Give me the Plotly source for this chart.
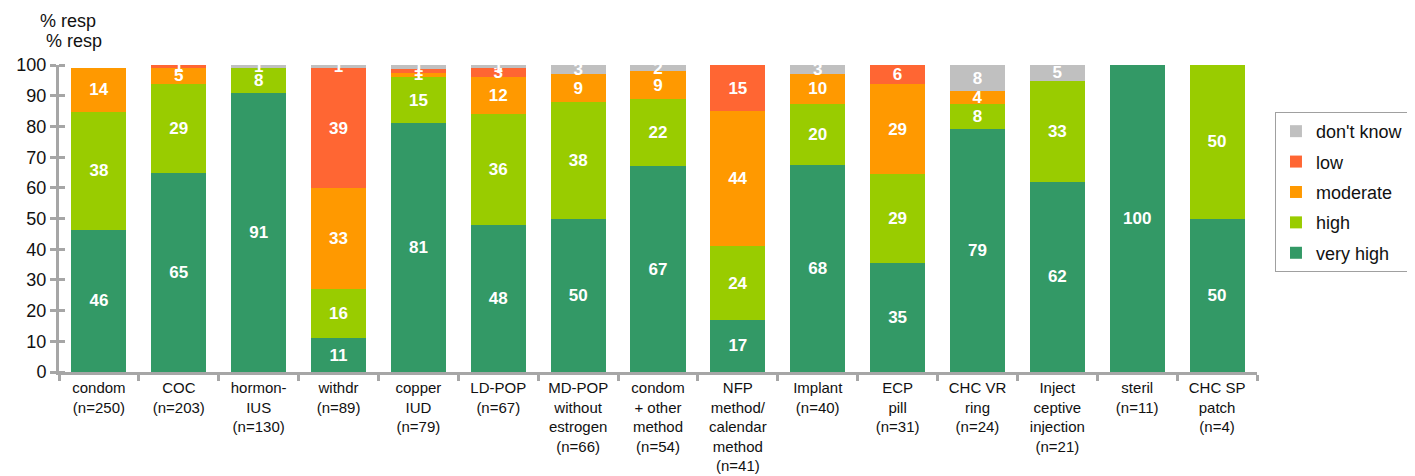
import plotly.graph_objects as go

categories = ["condom<br>(n=250)", "COC<br>(n=203)", "hormon-<br>IUS<br>(n=130)", "withdr<br>(n=89)",
              "copper<br>IUD<br>(n=79)", "LD-POP<br>(n=67)", "MD-POP<br>without<br>estrogen<br>(n=66)",
              "condom<br>+ other<br>method<br>(n=54)", "NFP<br>method/<br>calendar<br>method<br>(n=41)",
              "Implant<br>(n=40)", "ECP<br>pill<br>(n=31)", "CHC VR<br>ring<br>(n=24)",
              "Inject<br>ceptive<br>injection<br>(n=21)", "steril<br>(n=11)", "CHC SP<br>patch<br>(n=4)"]

very_high = [46.4, 65, 91, 11, 81.0, 48, 50, 67, 17, 67.5, 35.4, 79.2, 62, 100, 50]
high      = [38.4, 29, 8, 16, 15.2, 36, 38, 22, 24, 20, 29.0, 8.3, 33, 0, 50]
moderate  = [14.4, 5, 0, 33, 1.3, 12, 9, 9, 44, 9.5, 29.4, 4.2, 0, 0, 0]
low       = [0, 1, 0, 39, 1.3, 3, 0, 0, 15, 0, 6.1, 0, 0, 0, 0]
dont_know = [0, 0, 1, 1, 1.2, 1, 3, 2, 0, 3, 0, 8.2, 5, 0, 0]

series = [
    ("very high", very_high, "#339966"),
    ("high", high, "#99cc00"),
    ("moderate", moderate, "#ff9900"),
    ("low", low, "#ff6633"),
    ("don't know", dont_know, "#c0c0c0"),
]

FONT = "Liberation Sans, Arial, sans-serif"

fig = go.Figure()
for i, (name, vals, color) in enumerate(series):
    fig.add_trace(go.Bar(
        x=categories, y=vals, name=name, legendgroup=name,
        legendrank=len(series) - i,
        marker=dict(color=color, line=dict(width=0)),
        text=[str(int(round(v))) if v > 0 else "" for v in vals],
        texttemplate="%{text}",
        textposition="inside", insidetextanchor="middle", textangle=0,
        constraintext="none",
        textfont=dict(color="white", size=17, family=FONT, weight="bold"),
        cliponaxis=False, hoverinfo="skip",
    ))

fig.update_layout(
    width=1415, height=476,
    barmode="stack", bargap=0.31,
    paper_bgcolor="white", plot_bgcolor="white",
    margin=dict(l=51, r=166, t=57, b=112, autoexpand=False),
    font=dict(family=FONT, color="#111111"),
    uniformtext=dict(minsize=17, mode="show"),
    legend=dict(
        x=1.015, y=0.847, xanchor="left", yanchor="top",
        traceorder="grouped", tracegroupgap=4,
        bordercolor="#a0a0a0", borderwidth=1,
        font=dict(size=18, family=FONT, color="#111111"),
        itemwidth=30,
    ),
    showlegend=True,
    annotations=[
        dict(text="% resp", x=0.0075, y=1.143, xref="paper", yref="paper",
             xanchor="center", yanchor="middle", showarrow=False,
             font=dict(size=18, family=FONT, color="#111111")),
        dict(text="% resp", x=0.0125, y=1.078, xref="paper", yref="paper",
             xanchor="center", yanchor="middle", showarrow=False,
             font=dict(size=18, family=FONT, color="#111111")),
    ],
)

fig.update_yaxes(
    range=[0, 100.05], dtick=10, tick0=0, showgrid=False, zeroline=False,
    showline=True, linecolor="#a6a6a6", linewidth=3,
    ticks="outside", ticklen=6, tickwidth=3, tickcolor="#a6a6a6",
    minor=dict(ticks="inside", ticklen=6, tickwidth=3, tickcolor="#a6a6a6", dtick=10, tick0=0),
    tickfont=dict(size=18, family=FONT, color="#111111"),
    automargin=False,
)
fig.update_xaxes(
    showgrid=False, showline=True, linecolor="#a6a6a6", linewidth=3,
    ticks="outside", ticklen=6, tickwidth=3, tickcolor="#a6a6a6",
    tickson="boundaries",
    tickfont=dict(size=15, family=FONT, color="#111111"),
    automargin=False,
)

fig.write_html("out.html")
